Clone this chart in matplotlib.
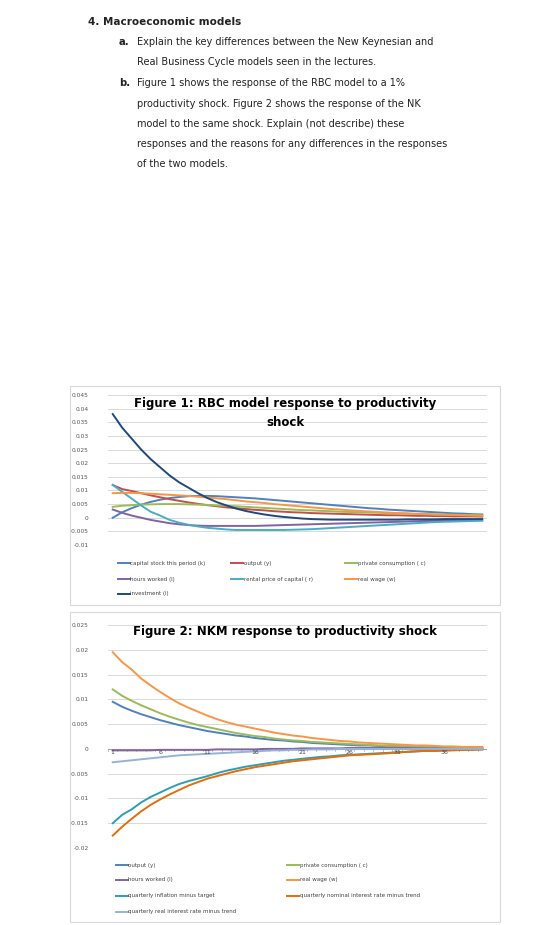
import matplotlib
matplotlib.use("Agg")
import matplotlib.pyplot as plt
from matplotlib.patches import Rectangle
import numpy as np

W, H = 559, 925

# ── Figure 1 data (RBC) ─────────────────────────────────────────────
rbc_k = [0,0.002,0.0035,0.0048,0.0058,0.0066,0.0072,0.0076,0.0079,0.008,0.008,0.0079,0.0077,0.0075,0.0073,0.0071,0.0068,0.0065,0.0062,0.0059,0.0056,0.0053,0.005,0.0047,0.0044,0.0041,0.0038,0.0035,0.0033,0.003,0.0028,0.0026,0.0024,0.0022,0.002,0.0018,0.0016,0.0015,0.0013,0.0012]
rbc_y = [0.012,0.0105,0.0098,0.009,0.0082,0.0075,0.0068,0.0062,0.0056,0.0051,0.0046,0.0042,0.0038,0.0035,0.0032,0.0029,0.0027,0.0024,0.0022,0.002,0.0019,0.0017,0.0016,0.0015,0.0014,0.0013,0.0012,0.0011,0.001,0.0009,0.0009,0.0008,0.0007,0.0007,0.0006,0.0006,0.0005,0.0005,0.0005,0.0004]
rbc_c = [0.004,0.0044,0.0046,0.0048,0.0049,0.005,0.005,0.005,0.0049,0.0048,0.0047,0.0045,0.0044,0.0042,0.004,0.0038,0.0036,0.0034,0.0032,0.003,0.0028,0.0027,0.0025,0.0024,0.0022,0.0021,0.002,0.0019,0.0018,0.0017,0.0016,0.0015,0.0014,0.0013,0.0012,0.0012,0.0011,0.001,0.001,0.0009]
rbc_l = [0.003,0.0018,0.0008,0,-0.0008,-0.0014,-0.002,-0.0024,-0.0027,-0.0029,-0.003,-0.003,-0.003,-0.003,-0.003,-0.003,-0.0029,-0.0028,-0.0027,-0.0026,-0.0025,-0.0024,-0.0023,-0.0022,-0.0021,-0.002,-0.0019,-0.0018,-0.0017,-0.0016,-0.0015,-0.0014,-0.0013,-0.0012,-0.0012,-0.0011,-0.001,-0.001,-0.0009,-0.0009]
rbc_r = [0.012,0.0095,0.007,0.0045,0.0022,0.0008,-0.0008,-0.0018,-0.0026,-0.0032,-0.0037,-0.004,-0.0043,-0.0045,-0.0045,-0.0045,-0.0045,-0.0045,-0.0045,-0.0044,-0.0043,-0.0042,-0.004,-0.0038,-0.0036,-0.0034,-0.0032,-0.003,-0.0028,-0.0026,-0.0024,-0.0022,-0.002,-0.0018,-0.0016,-0.0015,-0.0014,-0.0013,-0.0012,-0.0011]
rbc_w = [0.009,0.0091,0.0091,0.009,0.0088,0.0086,0.0084,0.0082,0.008,0.0077,0.0074,0.0071,0.0068,0.0064,0.006,0.0057,0.0054,0.005,0.0047,0.0044,0.0041,0.0038,0.0035,0.0032,0.003,0.0027,0.0025,0.0023,0.0021,0.0019,0.0017,0.0016,0.0014,0.0013,0.0012,0.0011,0.001,0.0009,0.0008,0.0007]
rbc_i = [0.038,0.033,0.029,0.025,0.0215,0.0185,0.0155,0.013,0.011,0.009,0.0072,0.0057,0.0045,0.0034,0.0025,0.0018,0.0012,0.0007,0.0003,0,-0.0003,-0.0005,-0.0006,-0.0007,-0.0007,-0.0007,-0.0007,-0.0007,-0.0007,-0.0007,-0.0007,-0.0006,-0.0006,-0.0006,-0.0006,-0.0005,-0.0005,-0.0005,-0.0005,-0.0005]

# ── Figure 2 data (NKM) ─────────────────────────────────────────────
nk_y = [0.0095,0.0085,0.0077,0.007,0.0064,0.0058,0.0053,0.0048,0.0044,0.004,0.0036,0.0033,0.003,0.0027,0.0025,0.0022,0.002,0.0018,0.0017,0.0015,0.0014,0.0012,0.0011,0.001,0.0009,0.0008,0.0007,0.0007,0.0006,0.0005,0.0005,0.0004,0.0004,0.0003,0.0003,0.0003,0.0002,0.0002,0.0002,0.0002]
nk_c = [0.012,0.0107,0.0097,0.0088,0.008,0.0072,0.0065,0.0059,0.0053,0.0048,0.0044,0.004,0.0036,0.0032,0.0029,0.0026,0.0024,0.0021,0.0019,0.0017,0.0016,0.0014,0.0013,0.0012,0.0011,0.001,0.0009,0.0008,0.0007,0.0006,0.0006,0.0005,0.0005,0.0004,0.0004,0.0003,0.0003,0.0003,0.0002,0.0002]
nk_l = [-0.0003,-0.0003,-0.0003,-0.0003,-0.0003,-0.0002,-0.0002,-0.0002,-0.0002,-0.0002,-0.0002,-0.0001,-0.0001,-0.0001,-0.0001,-0.0001,0,0,0,0,0.0001,0.0001,0.0001,0.0001,0.0001,0.0002,0.0002,0.0002,0.0002,0.0002,0.0002,0.0002,0.0001,0.0001,0.0001,0.0001,0,0,0,0]
nk_w = [0.0195,0.0175,0.016,0.0142,0.0128,0.0115,0.0103,0.0092,0.0083,0.0075,0.0067,0.006,0.0054,0.0049,0.0045,0.0041,0.0037,0.0033,0.003,0.0027,0.0025,0.0022,0.002,0.0018,0.0016,0.0015,0.0013,0.0012,0.0011,0.001,0.0009,0.0008,0.0007,0.0007,0.0006,0.0005,0.0005,0.0004,0.0004,0.0004]
nk_pi = [-0.015,-0.0133,-0.0122,-0.0108,-0.0097,-0.0088,-0.0079,-0.0071,-0.0065,-0.006,-0.0055,-0.0049,-0.0044,-0.004,-0.0036,-0.0033,-0.003,-0.0027,-0.0024,-0.0022,-0.002,-0.0018,-0.0016,-0.0015,-0.0013,-0.0012,-0.0011,-0.001,-0.0009,-0.0008,-0.0007,-0.0006,-0.0005,-0.0004,-0.0004,-0.0003,-0.0002,-0.0002,-0.0001,-0.0001]
nk_i = [-0.0175,-0.0157,-0.0141,-0.0126,-0.0113,-0.0102,-0.0092,-0.0083,-0.0074,-0.0067,-0.006,-0.0055,-0.005,-0.0045,-0.0041,-0.0037,-0.0034,-0.0031,-0.0028,-0.0025,-0.0023,-0.0021,-0.0019,-0.0017,-0.0015,-0.0013,-0.0012,-0.0011,-0.001,-0.0009,-0.0007,-0.0006,-0.0005,-0.0004,-0.0004,-0.0003,-0.0003,-0.0002,-0.0002,-0.0001]
nk_r = [-0.0027,-0.0025,-0.0023,-0.0021,-0.0019,-0.0017,-0.0015,-0.0013,-0.0012,-0.0011,-0.001,-0.0009,-0.0008,-0.0007,-0.0006,-0.0005,-0.0004,-0.0003,-0.0003,-0.0002,-0.0002,-0.0001,-0.0001,-0.0001,0,0,0,0,0,0,0,0,0,0,0,0,0,0,0,0]

rbc_series = [
    (rbc_k, "capital stock this period (k)", "#4F81BD"),
    (rbc_y, "output (y)", "#C0504D"),
    (rbc_c, "private consumption ( c)", "#9BBB59"),
    (rbc_l, "hours worked (l)", "#8064A2"),
    (rbc_r, "rental price of capital ( r)", "#4BACC6"),
    (rbc_w, "real wage (w)", "#F79646"),
    (rbc_i, "investment (i)", "#1F497D"),
]
nk_series = [
    (nk_y, "output (y)", "#4F81BD"),
    (nk_c, "private consumption ( c)", "#9BBB59"),
    (nk_l, "hours worked (l)", "#8064A2"),
    (nk_w, "real wage (w)", "#F79646"),
    (nk_pi, "quarterly inflation minus target", "#2C9FB0"),
    (nk_i, "quarterly nominal interest rate minus trend", "#E46C0A"),
    (nk_r, "quarterly real interest rate minus trend", "#95B3D7"),
]

fig = plt.figure(figsize=(W / 100, H / 100), dpi=100)


def fx(px):
    return px / W


def fy(py):
    return 1 - py / H


# ── Question text ───────────────────────────────────────────────────
fig.text(fx(88), fy(22), "4. Macroeconomic models", fontsize=7.5,
         fontweight="bold", va="center", color="#222222")
lines = [
    (42, "a.", "Explain the key differences between the New Keynesian and"),
    (62, None, "Real Business Cycle models seen in the lectures."),
    (83, "b.", "Figure 1 shows the response of the RBC model to a 1%"),
    (104, None, "productivity shock. Figure 2 shows the response of the NK"),
    (124, None, "model to the same shock. Explain (not describe) these"),
    (144, None, "responses and the reasons for any differences in the responses"),
    (164, None, "of the two models."),
]
for yy, lab, txt in lines:
    if lab:
        fig.text(fx(119), fy(yy), lab, fontsize=7.2, fontweight="bold",
                 va="center", color="#222222")
    fig.text(fx(137), fy(yy), txt, fontsize=7.0, va="center", color="#222222")


def make_chart(box, plot_px, ylim, yticks, series, title_lines, title_y,
               leg_rows, leg_cols, xaxis_labels):
    x0, y0, x1, y1 = box
    fig.patches.append(Rectangle((fx(x0), fy(y1)), fx(x1 - x0), (y1 - y0) / H,
                                 transform=fig.transFigure, fill=False,
                                 edgecolor="#D9D9D9", linewidth=0.8))
    l, t, r, b = plot_px
    ax = fig.add_axes([fx(l), fy(b), fx(r - l), (b - t) / H])
    x = np.arange(1, 41)
    for vals, lab, col in series:
        ax.plot(x, vals, color=col, linewidth=1.4)
    ax.set_xlim(0.5, 40.5)
    ax.set_ylim(*ylim)
    yticks = [round(v, 4) for v in yticks]
    ax.set_yticks(yticks)
    ax.set_yticklabels([f"{v:g}" if v != 0 else "0" for v in yticks],
                       fontsize=4.2, color="#555555")
    ax.grid(axis="y", color="#D9D9D9", linewidth=0.7)
    ax.set_axisbelow(True)
    for s in ax.spines.values():
        s.set_visible(False)
    ax.tick_params(axis="y", length=0, pad=14)
    ax.set_xticks([])
    ax.axhline(0, color="#A6A6A6" if xaxis_labels else "#D9D9D9", linewidth=0.8, zorder=1)
    if xaxis_labels:
        for tx in range(1, 41, 5):
            ax.text(tx, -0.0003, str(tx), fontsize=4.5, ha="center", va="top",
                    color="#444444")
        for tx in range(1, 42, 1):
            ax.plot([tx - 0.5, tx - 0.5], [0, -0.0004], color="#A6A6A6",
                    linewidth=0.5, zorder=1)
    for i, (txt, yy) in enumerate(zip(title_lines, title_y)):
        fig.text(fx(285), fy(yy), txt, fontsize=8.5, fontweight="bold",
                 ha="center", va="center")
    # legend
    for k, (vals, lab, col) in enumerate(series):
        row, colm = divmod(k, len(leg_cols))
        lx, ly = leg_cols[colm], leg_rows[row]
        fig.lines.append(plt.Line2D([fx(lx), fx(lx + 12)], [fy(ly), fy(ly)],
                                    transform=fig.transFigure, color=col,
                                    linewidth=1.4))
        fig.text(fx(lx + 12.5), fy(ly), lab, fontsize=4.0, va="center",
                 color="#404040")
    return ax


make_chart((70, 386, 500, 605), (108, 395, 487, 545), (-0.01, 0.045),
           np.arange(-0.01, 0.0451, 0.005), rbc_series,
           ["Figure 1: RBC model response to productivity", "shock"],
           [404, 422], [563, 579, 594], [118, 231, 345], False)

make_chart((70, 612, 500, 922), (108, 625, 487, 848), (-0.02, 0.025),
           np.arange(-0.02, 0.0251, 0.005), nk_series,
           ["Figure 2: NKM response to productivity shock"],
           [632], [865, 880, 896, 912], [116, 287], True)

fig.savefig("out.png", dpi=100)
